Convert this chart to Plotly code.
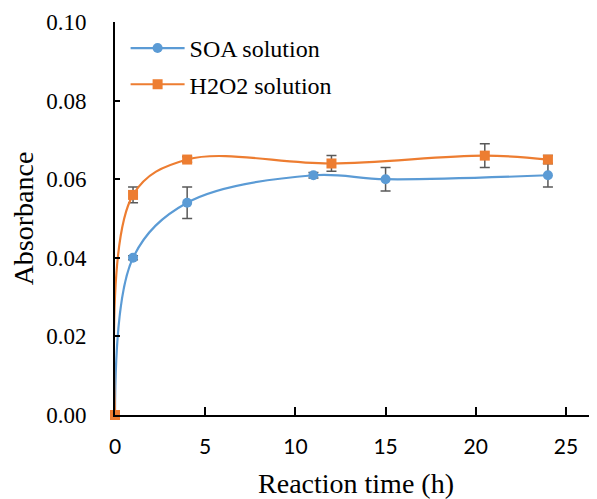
import plotly.graph_objects as go

soa_x = [0, 1, 4, 11, 15, 24]
soa_y = [0.0, 0.040, 0.054, 0.061, 0.060, 0.061]
soa_err = [0.0, 0.0005, 0.004, 0.0007, 0.003, 0.003]

h2o2_x = [0, 1, 4, 12, 20.5, 24]
h2o2_y = [0.0, 0.056, 0.065, 0.064, 0.066, 0.065]
h2o2_err = [0.0, 0.002, 0.0007, 0.002, 0.003, 0.001]

x_ticks = [0, 5, 10, 15, 20, 25]
y_ticks = [0.0, 0.02, 0.04, 0.06, 0.08, 0.10]

fig = go.Figure()
fig.add_trace(go.Scatter(
    x=soa_x, y=soa_y, name="SOA solution", mode="lines+markers", legendgroup="a",
    line=dict(color="#5B9BD5", width=2.2, shape="spline", smoothing=1.0),
    marker=dict(symbol="circle", size=10, color="#5B9BD5"),
    error_y=dict(type="data", array=soa_err, color="#595959", thickness=1.5, width=5),
    cliponaxis=False,
))
fig.add_trace(go.Scatter(
    x=h2o2_x, y=h2o2_y, name="H2O2 solution", mode="lines+markers", legendgroup="b",
    line=dict(color="#ED7D31", width=2.2, shape="spline", smoothing=1.0),
    marker=dict(symbol="square", size=10, color="#ED7D31"),
    error_y=dict(type="data", array=h2o2_err, color="#595959", thickness=1.5, width=5),
    cliponaxis=False,
))

# page body has an 8px default margin, so the figure is sized/offset to compensate
fig.update_layout(
    width=589, height=491,
    margin=dict(l=107, r=0, t=14, b=84, autoexpand=False),
    plot_bgcolor="white", paper_bgcolor="white",
    showlegend=True,
    legend=dict(x=0.022, y=0.99, xanchor="left", yanchor="top",
                font=dict(family="Liberation Serif", size=24, color="black"),
                bgcolor="rgba(0,0,0,0)", tracegroupgap=2, itemwidth=54),
    xaxis=dict(range=[0, 26.72], tickvals=x_ticks, ticktext=[str(v) for v in x_ticks],
               showline=True, linecolor="black", linewidth=2, ticks="inside", automargin=False,
               ticklen=8, tickcolor="black", tickwidth=1.5, showgrid=False, zeroline=False,
               tickfont=dict(family="Lato", size=21, color="black"),
               ticklabelstandoff=12,
               title=dict(text="Reaction time (h)", font=dict(family="Liberation Serif", size=28, color="black"), standoff=18)),
    yaxis=dict(range=[0, 0.10], tickvals=y_ticks, ticktext=[f"{v:.2f}" for v in y_ticks],
               showline=True, linecolor="black", linewidth=2, ticks="inside", automargin=False,
               ticklen=5, tickcolor="black", tickwidth=1.5, showgrid=False, zeroline=False,
               tickfont=dict(family="Liberation Serif", size=23, color="black"),
               ticklabelstandoff=22,
               title=dict(text="Absorbance", font=dict(family="Liberation Serif", size=28, color="black"), standoff=8)),
)

fig.write_html("out.html")
